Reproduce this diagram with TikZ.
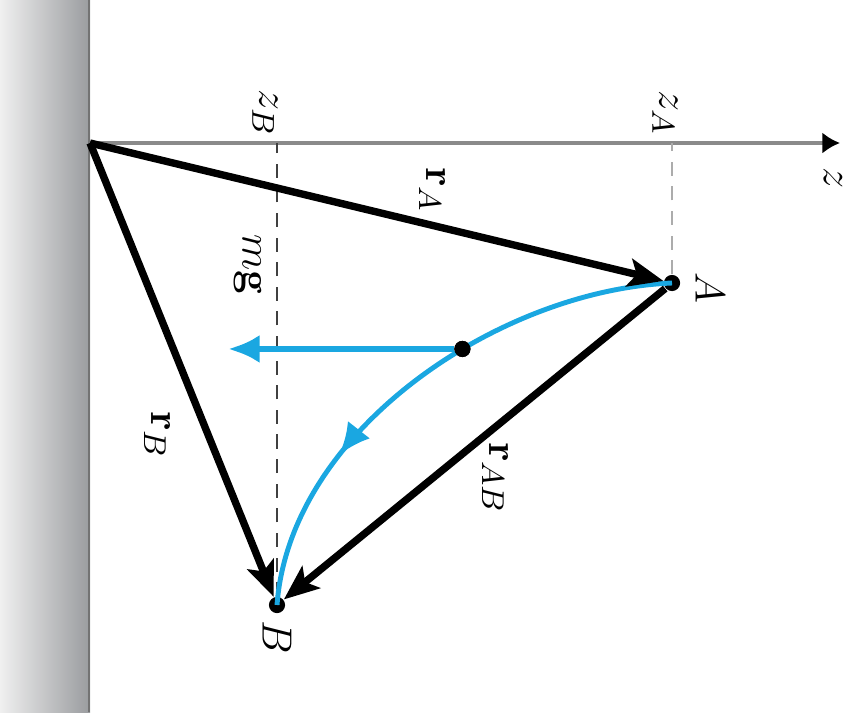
\documentclass[tikz,border=0pt]{standalone}
\usepackage{amsmath}
\usepackage{xcolor}
\usepackage{tikz}
\usetikzlibrary{arrows.meta,decorations.markings}
\definecolor{motionblue}{HTML}{1AA7E1}
\definecolor{wallgray}{HTML}{9A9C9F}
\definecolor{axisgray}{HTML}{8A8A8A}

\begin{document}
\begin{tikzpicture}[
    x=0.01cm, y=-0.01cm,
    vec/.style={-{Stealth[length=10pt,width=8pt,inset=2.2pt]},
      line width=2.1pt, draw=black},
    axis/.style={-{Latex[length=5pt,width=6pt,color=black]},
      line width=0.9pt, draw=axisgray},
    level/.style={line width=0.6pt, dash pattern=on 4pt off 3pt},
    dot/.style={circle, fill=black, inner sep=0pt, minimum size=4.6pt},
    trajectory/.style={line width=1.4pt, draw=motionblue, postaction={decorate},
      decoration={markings, mark=at position 0.7 with
        {\arrow{Latex[length=9pt,width=8pt,color=motionblue]}}}},
    force/.style={-{Latex[length=9pt,width=8pt]}, line width=1.8pt,
      draw=motionblue},
    lbl/.style={rotate=-90, font=\fontsize{12.5}{14}\selectfont, inner sep=1pt}
  ]
    \useasboundingbox (0,0) rectangle (862,712);

    % wall
    \shade[left color=gray!12, right color=wallgray] (0,0) rectangle (90,712);
    \draw[black!55, line width=0.6pt] (89,0) -- (89,712);

    \coordinate (O) at (90,143);
    \coordinate (zend) at (840,143);
    \node[dot] (A) at (672,283) {};
    \node[dot] (B) at (277,605) {};

    % z axis and levels
    \draw[axis] (O) -- (zend);
    \draw[level, draw=gray!65] (A) -- (A |- O);
    \draw[level, draw=black!75] (B) -- (B |- O);

    % trajectory A -> B
    \path (A.center) .. controls (500,290) and (290,430) .. (B.center)
      node[dot, pos=0.4] (M) {};
    \draw[trajectory] (A.center) .. controls (500,290) and (290,430) .. (B.center);
    \node[dot] at (M) {};

    % weight
    \coordinate (F) at (228,0);
    \draw[force] (M) -- (F |- M);

    % position vectors
    \draw[vec] (O) -- (A);
    \draw[vec] (O) -- (B);
    \draw[vec] (A) -- (B);

    % labels
    \node[lbl] (zAlbl) at (665,113) {$z_A$};
    \node[lbl] (zBlbl) at (265,113) {$z_B$};
    \node[lbl] (zlbl) at (833,178) {$z$};
    \node[lbl] (rAlbl) at (432,190) {$\mathbf{r}_A$};
    \node[lbl] (rBlbl) at (157,435) {$\mathbf{r}_B$};
    \node[lbl] (rABlbl) at (495,478) {$\mathbf{r}_{AB}$};
    \node[lbl] (mglbl) at (248,265) {$m\mathbf{g}$};
    \node[lbl] (Albl) at (710,288) {$A$};
    \node[lbl] (Blbl) at (277,637) {$B$};
  \end{tikzpicture}
\end{document}
